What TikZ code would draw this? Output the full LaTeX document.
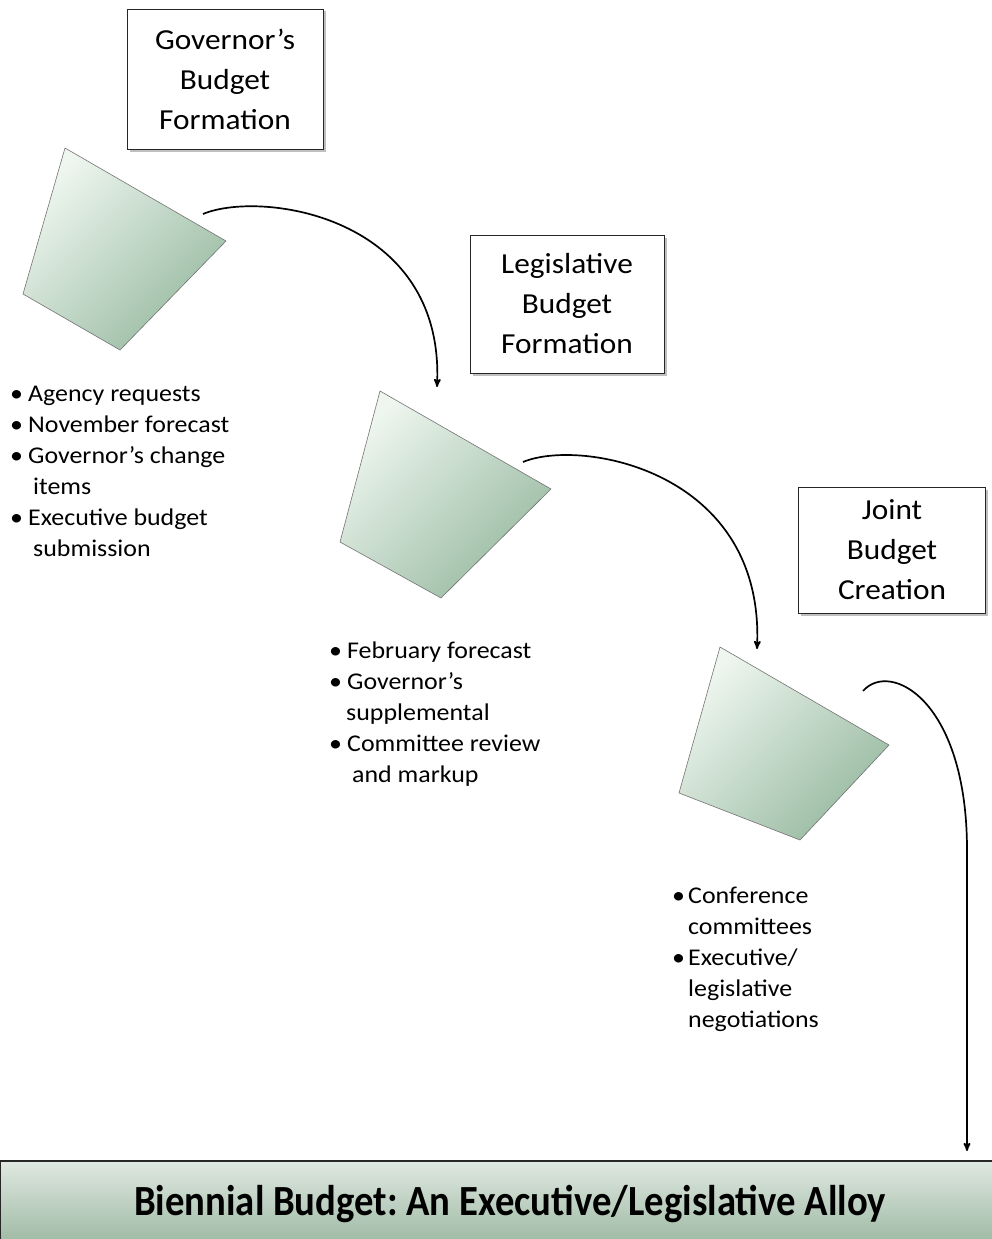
\documentclass[tikz,border=0pt]{standalone}
\usepackage{fontspec}
\setmainfont{Carlito}[FakeStretch=1.08]
\newfontfamily\bannerfont{Carlito}[FakeStretch=0.9]
\usetikzlibrary{arrows, positioning, calc, shadows}
\definecolor{blockLight}{HTML}{EEF6EF}
\definecolor{blockDark}{HTML}{98BAA1}
\definecolor{bannerLight}{HTML}{E0E8E1}
\definecolor{bannerDark}{HTML}{A1BCA7}
\frenchspacing

\begin{document}
\begin{tikzpicture}[x=1pt,y=-1pt,>=stealth',
		stage box/.style={draw=black!85,fill=white,line width=0.9pt,align=center,
			font=\fontsize{29}{40}\selectfont,
			drop shadow={shadow xshift=2.5pt,shadow yshift=-2.5pt,opacity=0.5}},
		note list/.style={align=left,inner sep=0pt,anchor=base west,font=\fontsize{24}{31}\selectfont},
		block/.style={draw=black!55,line width=0.6pt,top color=blockLight,bottom color=blockDark,shading angle=45},
		flow/.style={->,line width=1.7pt}]
		
		\useasboundingbox (0,0) rectangle (992,1239);
		
		% stage titles
		\node[stage box,minimum width=196pt,minimum height=140pt] (gov) at (225,79) {Governor’s\\Budget\\Formation};
		\node[stage box,minimum width=194pt,minimum height=138pt] (leg) at (567,304) {Legislative\\Budget\\Formation};
		\node[stage box,minimum width=187pt,minimum height=126pt] (joint) at (892,550) {Joint\\Budget\\Creation};
		
		% blocks
		\shade[block] (65,148) -- (226,241) -- (120,350) -- (23,294) -- cycle;
		\shade[block] (380,391) -- (551,489) -- (441,598) -- (340,542) -- cycle;
		\shade[block] (720,647) -- (889,745) -- (800,840) -- (679,793) -- cycle;
		
		% notes (base = last line)
		\node[note list] (govnotes) at (10,556) {\makebox[18pt][l]{\textbullet}Agency requests\\
			\makebox[18pt][l]{\textbullet}November forecast\\
			\makebox[18pt][l]{\textbullet}Governor’s change\\
			\hspace*{23pt}items\\
			\makebox[18pt][l]{\textbullet}Executive budget\\
			\hspace*{23pt}submission};
		\node[note list] (legnotes) at (329,782) {\makebox[18pt][l]{\textbullet}February forecast\\
			\makebox[18pt][l]{\textbullet}Governor’s\\
			\hspace*{17pt}supplemental\\
			\makebox[18pt][l]{\textbullet}Committee review\\
			\hspace*{23pt}and markup};
		\node[note list] (jointnotes) at (672,1027) {\makebox[16pt][l]{\textbullet}Conference\\
			\hspace*{16pt}committees\\
			\makebox[16pt][l]{\textbullet}Executive/\\
			\hspace*{16pt}legislative\\
			\hspace*{16pt}negotiations};
		
		% banner
		\node[top color=bannerLight,bottom color=bannerDark,minimum width=992pt,minimum height=78pt,
			inner sep=0pt] (alloy) at (496,1200) {};
		\draw[line width=1.8pt,black!85] (alloy.south west) -- (alloy.north west) -- (alloy.north east);
		\node[font=\fontsize{43}{50}\bannerfont\bfseries] (alloytext) at ($(alloy.center)+(14,4)$)
			{Biennial Budget: An Executive/Legislative Alloy};
		
		% connectors
		\coordinate (out1) at (203,214);
		\coordinate (in2) at (437,387);
		\coordinate (out2) at (523,462);
		\coordinate (in3) at (757,649);
		\coordinate (out3) at (863,691);
		\coordinate (bend3) at (967,850);
		\coordinate (in4) at (967,1151);
		
		\draw[flow] (out1) .. controls (260,190) and (445,215) .. (in2);
		\draw[flow] (out2) .. controls (580,438) and (765,470) .. (in3);
		\draw[flow] (out3) .. controls (890,660) and (967,700) .. (bend3) -- (in4);
		
	\end{tikzpicture}
\end{document}
